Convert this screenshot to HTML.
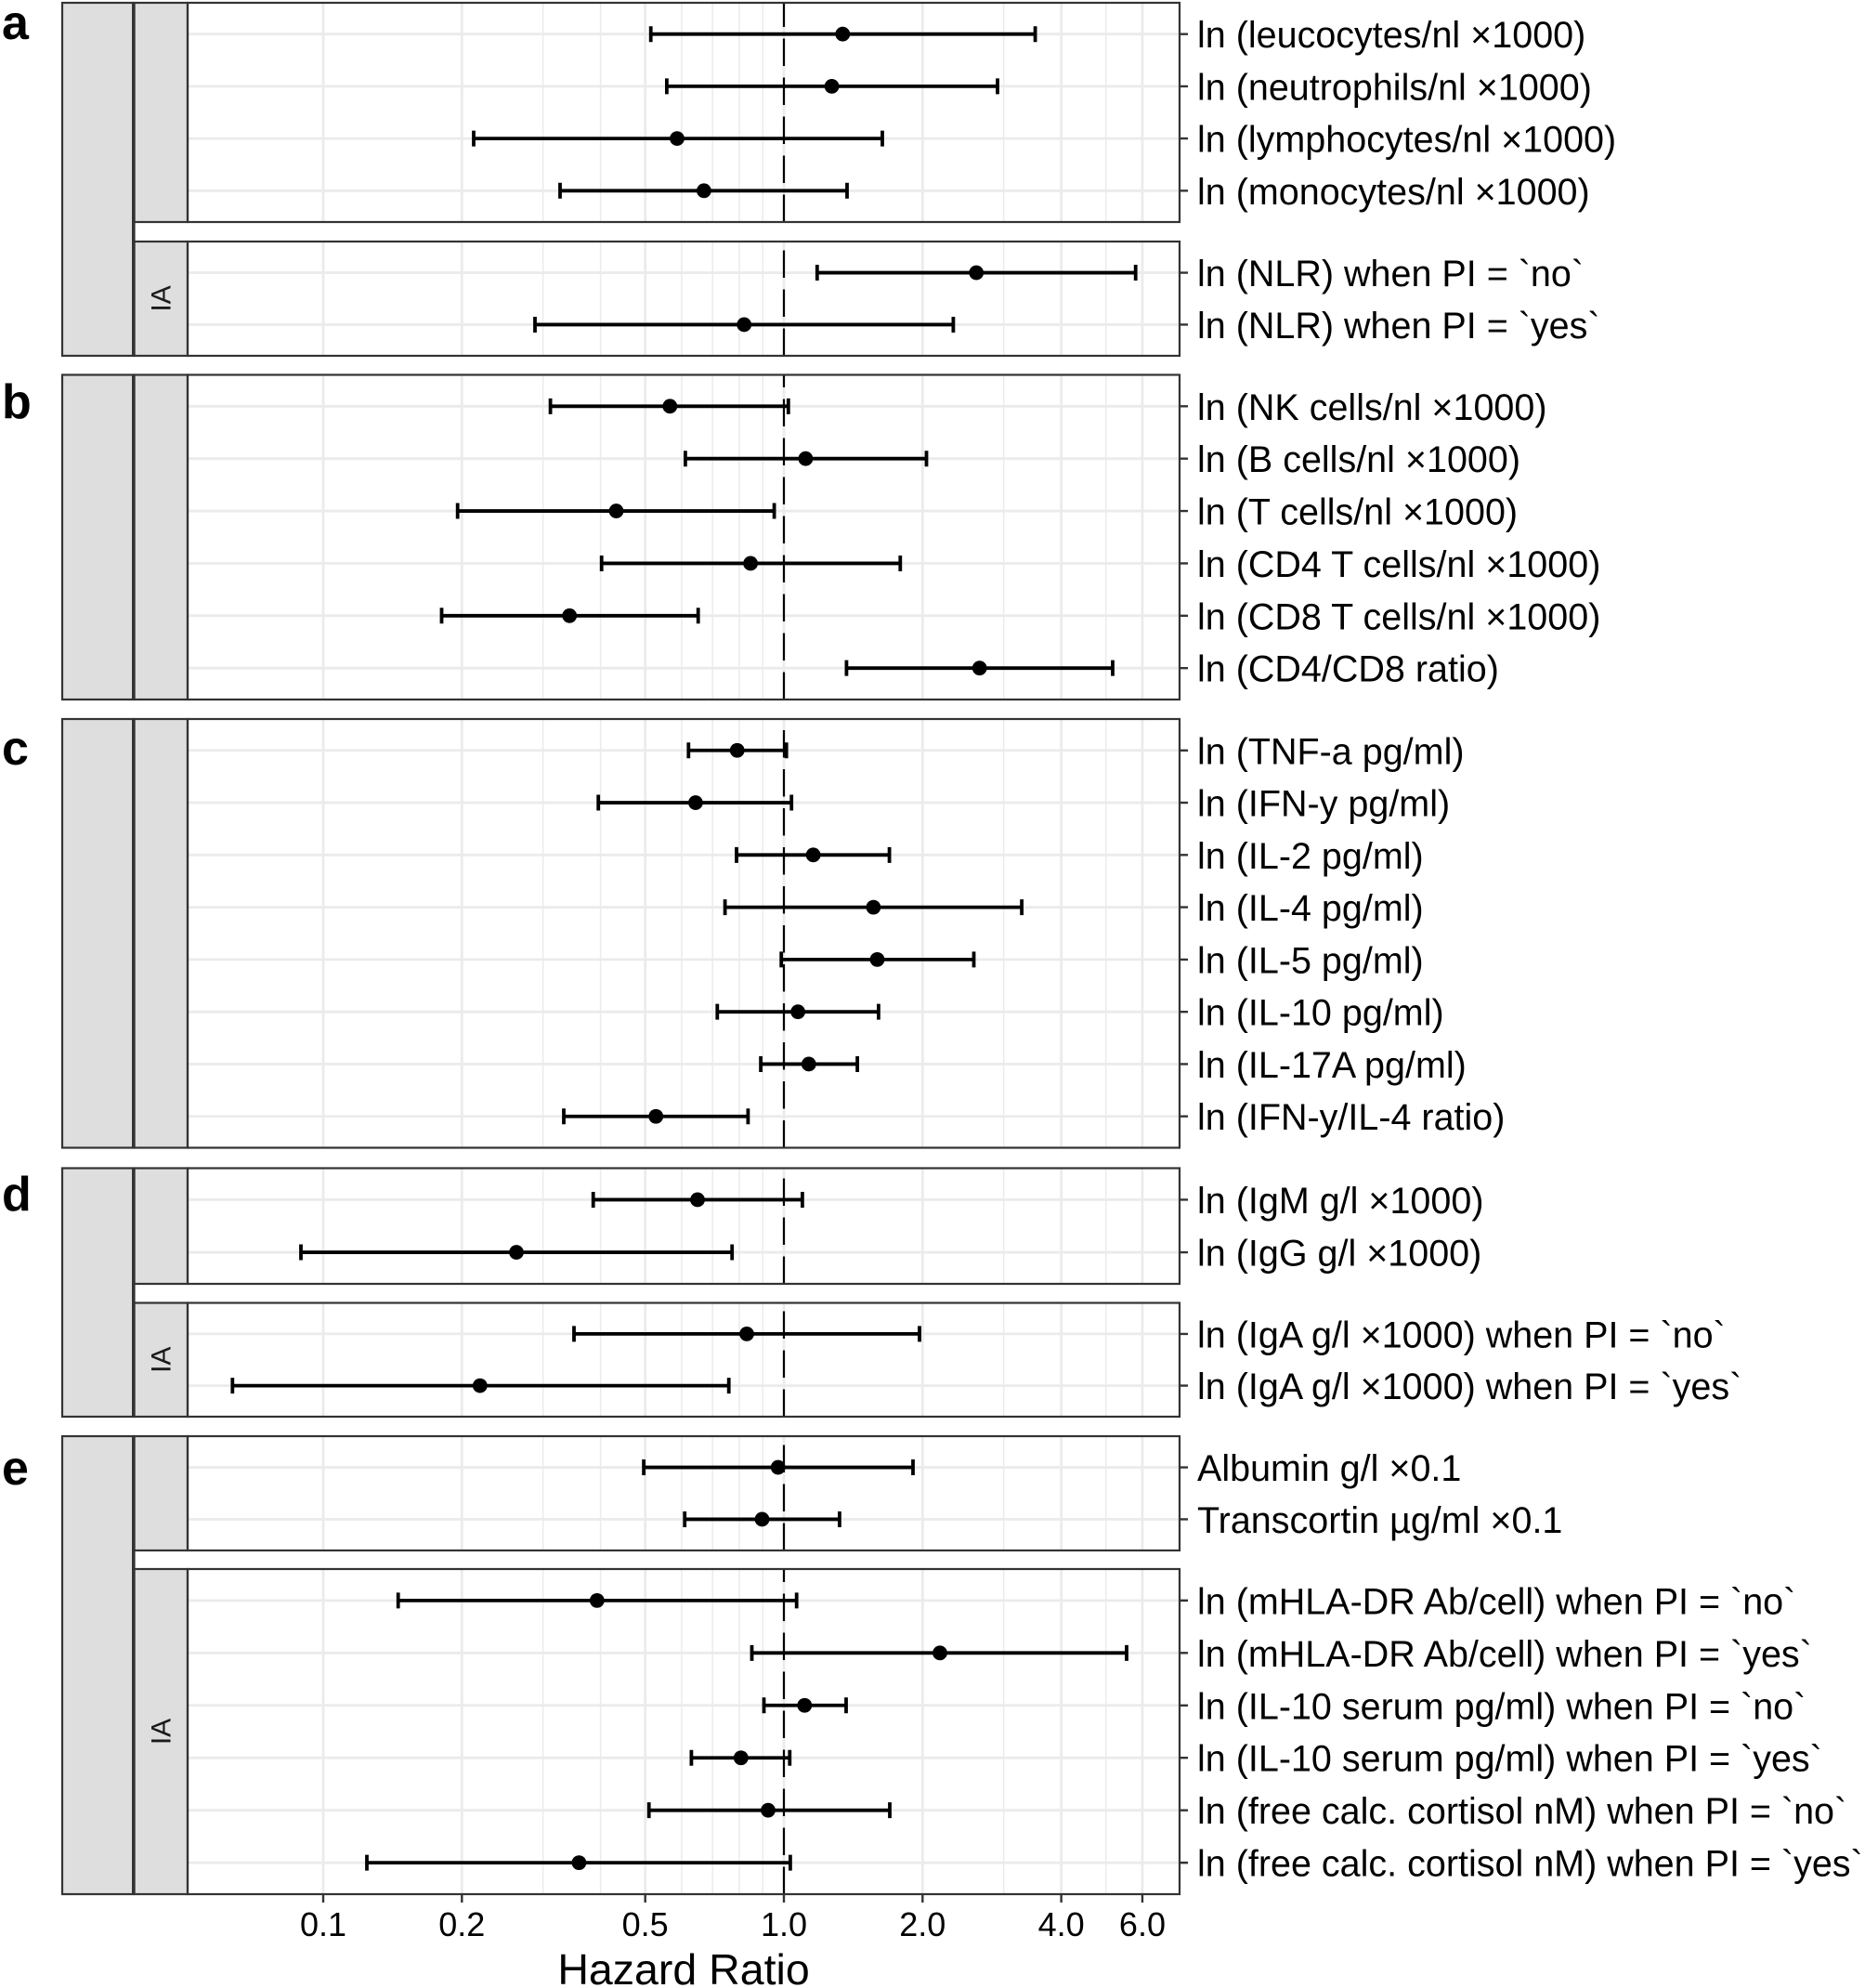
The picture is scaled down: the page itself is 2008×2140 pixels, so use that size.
<!DOCTYPE html>
<html>
<head>
<meta charset="utf-8">
<style>
html,body{margin:0;padding:0;background:#fff;}
svg{display:block;}
text{font-family:"Liberation Sans",Arial,sans-serif;}
</style>
</head>
<body>
<svg width="2008" height="2140" viewBox="0 0 2008 2140" xmlns="http://www.w3.org/2000/svg">
<rect x="0" y="0" width="2008" height="2140" fill="#fff"/>

<!-- panel letters -->
<g font-weight="bold" font-size="52" fill="#000">
<text x="2" y="42">a</text>
<text x="2" y="450">b</text>
<text x="2" y="823">c</text>
<text x="2" y="1303">d</text>
<text x="2" y="1598">e</text>
</g>

<!-- vertical grid lines (full height, gaps masked later) -->
<g stroke="#ebebeb" stroke-width="1.5">
<line x1="584.65" y1="3" x2="584.65" y2="2039"/>
<line x1="646.62" y1="3" x2="646.62" y2="2039"/>
<line x1="733.96" y1="3" x2="733.96" y2="2039"/>
<line x1="767.17" y1="3" x2="767.17" y2="2039"/>
<line x1="795.93" y1="3" x2="795.93" y2="2039"/>
<line x1="821.30" y1="3" x2="821.30" y2="2039"/>
<line x1="1080.65" y1="3" x2="1080.65" y2="2039"/>
<line x1="1190.69" y1="3" x2="1190.69" y2="2039"/>
</g>
<g stroke="#ebebeb" stroke-width="2.8">
<line x1="348" y1="3" x2="348" y2="2039"/>
<line x1="497.31" y1="3" x2="497.31" y2="2039"/>
<line x1="694.69" y1="3" x2="694.69" y2="2039"/>
<line x1="844" y1="3" x2="844" y2="2039"/>
<line x1="993.31" y1="3" x2="993.31" y2="2039"/>
<line x1="1142.62" y1="3" x2="1142.62" y2="2039"/>
<line x1="1229.96" y1="3" x2="1229.96" y2="2039"/>
</g>
<!-- gaps between panels -->
<g fill="#fff">
<rect x="200" y="239" width="1074" height="21"/>
<rect x="200" y="383" width="1074" height="20.5"/>
<rect x="200" y="753" width="1074" height="21"/>
<rect x="200" y="1235.5" width="1074" height="22"/>
<rect x="200" y="1382" width="1074" height="20.5"/>
<rect x="200" y="1525" width="1074" height="21"/>
<rect x="200" y="1669" width="1074" height="20"/>
</g>

<!-- horizontal grid lines -->
<g stroke="#ebebeb" stroke-width="2.8">
<line x1="202" x2="1270" y1="36.71" y2="36.71"/>
<line x1="202" x2="1270" y1="92.90" y2="92.90"/>
<line x1="202" x2="1270" y1="149.10" y2="149.10"/>
<line x1="202" x2="1270" y1="205.29" y2="205.29"/>
<line x1="202" x2="1270" y1="293.55" y2="293.55"/>
<line x1="202" x2="1270" y1="349.45" y2="349.45"/>
<line x1="202" x2="1270" y1="437.32" y2="437.32"/>
<line x1="202" x2="1270" y1="493.69" y2="493.69"/>
<line x1="202" x2="1270" y1="550.06" y2="550.06"/>
<line x1="202" x2="1270" y1="606.44" y2="606.44"/>
<line x1="202" x2="1270" y1="662.81" y2="662.81"/>
<line x1="202" x2="1270" y1="719.18" y2="719.18"/>
<line x1="202" x2="1270" y1="807.77" y2="807.77"/>
<line x1="202" x2="1270" y1="864.05" y2="864.05"/>
<line x1="202" x2="1270" y1="920.33" y2="920.33"/>
<line x1="202" x2="1270" y1="976.61" y2="976.61"/>
<line x1="202" x2="1270" y1="1032.89" y2="1032.89"/>
<line x1="202" x2="1270" y1="1089.17" y2="1089.17"/>
<line x1="202" x2="1270" y1="1145.45" y2="1145.45"/>
<line x1="202" x2="1270" y1="1201.73" y2="1201.73"/>
<line x1="202" x2="1270" y1="1291.45" y2="1291.45"/>
<line x1="202" x2="1270" y1="1348.05" y2="1348.05"/>
<line x1="202" x2="1270" y1="1435.91" y2="1435.91"/>
<line x1="202" x2="1270" y1="1491.59" y2="1491.59"/>
<line x1="202" x2="1270" y1="1579.55" y2="1579.55"/>
<line x1="202" x2="1270" y1="1635.45" y2="1635.45"/>
<line x1="202" x2="1270" y1="1722.87" y2="1722.87"/>
<line x1="202" x2="1270" y1="1779.32" y2="1779.32"/>
<line x1="202" x2="1270" y1="1835.77" y2="1835.77"/>
<line x1="202" x2="1270" y1="1892.23" y2="1892.23"/>
<line x1="202" x2="1270" y1="1948.68" y2="1948.68"/>
<line x1="202" x2="1270" y1="2005.13" y2="2005.13"/>
</g>

<!-- dashed reference line at HR = 1 (drawn bottom to top per panel) -->
<g stroke="#000" stroke-width="2.2" stroke-dasharray="29.5 12.5" fill="none">
<line x1="844" y1="239" x2="844" y2="3"/>
<line x1="844" y1="383" x2="844" y2="260"/>
<line x1="844" y1="753" x2="844" y2="403.5"/>
<line x1="844" y1="1235.5" x2="844" y2="774"/>
<line x1="844" y1="1382" x2="844" y2="1257.5"/>
<line x1="844" y1="1525" x2="844" y2="1402.5"/>
<line x1="844" y1="1669" x2="844" y2="1546"/>
<line x1="844" y1="2039" x2="844" y2="1689"/>
</g>

<!-- error bars -->
<g stroke="#000" stroke-width="3.8" fill="none">
<path d="M700.7 36.71H1114.6M700.7 28.2V45.2M1114.6 28.2V45.2"/>
<path d="M717.9 92.90H1074M717.9 84.4V101.4M1074 84.4V101.4"/>
<path d="M510 149.10H950M510 140.6V157.6M950 140.6V157.6"/>
<path d="M603 205.29H912M603 196.8V213.8M912 196.8V213.8"/>
<path d="M879.8 293.55H1222.7M879.8 285.05V302.05M1222.7 285.05V302.05"/>
<path d="M576 349.45H1026.4M576 340.95V357.95M1026.4 340.95V357.95"/>

<path d="M592.6 437.32H848.8M592.6 428.82V445.82M848.8 428.82V445.82"/>
<path d="M737.9 493.69H997.5M737.9 485.19V502.19M997.5 485.19V502.19"/>
<path d="M492.7 550.06H833.6M492.7 541.56V558.56M833.6 541.56V558.56"/>
<path d="M647.7 606.44H969.3M647.7 597.94V614.94M969.3 597.94V614.94"/>
<path d="M475.5 662.81H751.7M475.5 654.31V671.31M751.7 654.31V671.31"/>
<path d="M911.4 719.18H1198M911.4 710.68V727.68M1198 710.68V727.68"/>

<path d="M741.3 807.77H846.7M741.3 799.27V816.27M846.7 799.27V816.27"/>
<path d="M644.2 864.05H852.2M644.2 855.55V872.55M852.2 855.55V872.55"/>
<path d="M793 920.33H957.6M793 911.83V928.83M957.6 911.83V928.83"/>
<path d="M780.6 976.61H1100.1M780.6 968.11V985.11M1100.1 968.11V985.11"/>
<path d="M841.2 1032.89H1048.5M841.2 1024.39V1041.39M1048.5 1024.39V1041.39"/>
<path d="M772.3 1089.17H945.9M772.3 1080.67V1097.67M945.9 1080.67V1097.67"/>
<path d="M819.1 1145.45H923.1M819.1 1136.95V1153.95M923.1 1136.95V1153.95"/>
<path d="M607 1201.73H805.4M607 1193.23V1210.23M805.4 1193.23V1210.23"/>

<path d="M638.7 1291.45H863.9M638.7 1282.95V1299.95M863.9 1282.95V1299.95"/>
<path d="M324 1348.05H788.2M324 1339.55V1356.55M788.2 1339.55V1356.55"/>
<path d="M618 1435.91H990M618 1427.41V1444.41M990 1427.41V1444.41"/>
<path d="M250.3 1491.59H784.7M250.3 1483.09V1500.09M784.7 1483.09V1500.09"/>

<path d="M693.1 1579.55H983M693.1 1571.05V1588.05M983 1571.05V1588.05"/>
<path d="M737.2 1635.45H903.9M737.2 1626.95V1643.95M903.9 1626.95V1643.95"/>
<path d="M428.7 1722.87H857.7M428.7 1714.37V1731.37M857.7 1714.37V1731.37"/>
<path d="M809.5 1779.32H1213M809.5 1770.82V1787.82M1213 1770.82V1787.82"/>
<path d="M822.5 1835.77H911M822.5 1827.27V1844.27M911 1827.27V1844.27"/>
<path d="M744.4 1892.23H850.3M744.4 1883.73V1900.73M850.3 1883.73V1900.73"/>
<path d="M698.7 1948.68H958M698.7 1940.18V1957.18M958 1940.18V1957.18"/>
<path d="M395 2005.13H850.9M395 1996.63V2013.63M850.9 1996.63V2013.63"/>
</g>

<!-- points -->
<g fill="#000">
<circle cx="907.3" cy="36.71" r="7.9"/>
<circle cx="895.6" cy="92.90" r="7.9"/>
<circle cx="729" cy="149.10" r="7.9"/>
<circle cx="757.9" cy="205.29" r="7.9"/>
<circle cx="1051.2" cy="293.55" r="7.9"/>
<circle cx="801.2" cy="349.45" r="7.9"/>
<circle cx="721.3" cy="437.32" r="7.9"/>
<circle cx="867.4" cy="493.69" r="7.9"/>
<circle cx="663.5" cy="550.06" r="7.9"/>
<circle cx="808.1" cy="606.44" r="7.9"/>
<circle cx="613.2" cy="662.81" r="7.9"/>
<circle cx="1054.7" cy="719.18" r="7.9"/>
<circle cx="793.7" cy="807.77" r="7.9"/>
<circle cx="748.9" cy="864.05" r="7.9"/>
<circle cx="875.6" cy="920.33" r="7.9"/>
<circle cx="940.4" cy="976.61" r="7.9"/>
<circle cx="944.5" cy="1032.89" r="7.9"/>
<circle cx="859.1" cy="1089.17" r="7.9"/>
<circle cx="870.8" cy="1145.45" r="7.9"/>
<circle cx="706.2" cy="1201.73" r="7.9"/>
<circle cx="751" cy="1291.45" r="7.9"/>
<circle cx="556" cy="1348.05" r="7.9"/>
<circle cx="804" cy="1435.91" r="7.9"/>
<circle cx="516.8" cy="1491.59" r="7.9"/>
<circle cx="837.7" cy="1579.55" r="7.9"/>
<circle cx="820.5" cy="1635.45" r="7.9"/>
<circle cx="642.8" cy="1722.87" r="7.9"/>
<circle cx="1012" cy="1779.32" r="7.9"/>
<circle cx="866.3" cy="1835.77" r="7.9"/>
<circle cx="797.8" cy="1892.23" r="7.9"/>
<circle cx="827" cy="1948.68" r="7.9"/>
<circle cx="623.4" cy="2005.13" r="7.9"/>
</g>

<!-- strips -->
<g fill="#dedede" stroke="#333" stroke-width="2.2">
<rect x="67" y="3" width="77" height="380"/>
<rect x="67" y="403.5" width="77" height="349.5"/>
<rect x="67" y="774" width="77" height="461.5"/>
<rect x="67" y="1257.5" width="77" height="267.5"/>
<rect x="67" y="1546" width="77" height="493"/>

<rect x="144.5" y="3" width="57.5" height="236"/>
<rect x="144.5" y="260" width="57.5" height="123"/>
<rect x="144.5" y="403.5" width="57.5" height="349.5"/>
<rect x="144.5" y="774" width="57.5" height="461.5"/>
<rect x="144.5" y="1257.5" width="57.5" height="124.5"/>
<rect x="144.5" y="1402.5" width="57.5" height="122.5"/>
<rect x="144.5" y="1546" width="57.5" height="123"/>
<rect x="144.5" y="1689" width="57.5" height="350"/>
</g>
<!-- thicker divider between outer and inner strips -->
<g stroke="#333" stroke-width="3.6">
<line x1="143.8" y1="3" x2="143.8" y2="383"/>
<line x1="143.8" y1="403.5" x2="143.8" y2="753"/>
<line x1="143.8" y1="774" x2="143.8" y2="1235.5"/>
<line x1="143.8" y1="1257.5" x2="143.8" y2="1525"/>
<line x1="143.8" y1="1546" x2="143.8" y2="2039"/>
</g>

<!-- IA strip labels -->
<g font-size="30" fill="#1a1a1a" text-anchor="middle">
<text transform="translate(173,321.5) rotate(-90)" y="10.5">IA</text>
<text transform="translate(173,1463.75) rotate(-90)" y="10.5">IA</text>
<text transform="translate(173,1864) rotate(-90)" y="10.5">IA</text>
</g>

<!-- panel borders -->
<g fill="none" stroke="#333" stroke-width="2.2">
<rect x="202" y="3" width="1068" height="236"/>
<rect x="202" y="260" width="1068" height="123"/>
<rect x="202" y="403.5" width="1068" height="349.5"/>
<rect x="202" y="774" width="1068" height="461.5"/>
<rect x="202" y="1257.5" width="1068" height="124.5"/>
<rect x="202" y="1402.5" width="1068" height="122.5"/>
<rect x="202" y="1546" width="1068" height="123"/>
<rect x="202" y="1689" width="1068" height="350"/>
</g>

<!-- right axis ticks -->
<g stroke="#333" stroke-width="2.4">
<path d="M1270 36.71h9M1270 92.90h9M1270 149.10h9M1270 205.29h9M1270 293.55h9M1270 349.45h9
M1270 437.32h9M1270 493.69h9M1270 550.06h9M1270 606.44h9M1270 662.81h9M1270 719.18h9
M1270 807.77h9M1270 864.05h9M1270 920.33h9M1270 976.61h9M1270 1032.89h9M1270 1089.17h9M1270 1145.45h9M1270 1201.73h9
M1270 1291.45h9M1270 1348.05h9M1270 1435.91h9M1270 1491.59h9
M1270 1579.55h9M1270 1635.45h9M1270 1722.87h9M1270 1779.32h9M1270 1835.77h9M1270 1892.23h9M1270 1948.68h9M1270 2005.13h9"/>
</g>

<!-- right labels -->
<g font-size="39.5" fill="#000">
<text x="1289" y="51.21">ln (leucocytes/nl ×1000)</text>
<text x="1289" y="107.40">ln (neutrophils/nl ×1000)</text>
<text x="1289" y="163.60">ln (lymphocytes/nl ×1000)</text>
<text x="1289" y="219.79">ln (monocytes/nl ×1000)</text>
<text x="1289" y="308.05">ln (NLR) when PI = `no`</text>
<text x="1289" y="363.95">ln (NLR) when PI = `yes`</text>

<text x="1289" y="451.82">ln (NK cells/nl ×1000)</text>
<text x="1289" y="508.19">ln (B cells/nl ×1000)</text>
<text x="1289" y="564.56">ln (T cells/nl ×1000)</text>
<text x="1289" y="620.94">ln (CD4 T cells/nl ×1000)</text>
<text x="1289" y="677.31">ln (CD8 T cells/nl ×1000)</text>
<text x="1289" y="733.68">ln (CD4/CD8 ratio)</text>

<text x="1289" y="822.27">ln (TNF-a pg/ml)</text>
<text x="1289" y="878.55">ln (IFN-y pg/ml)</text>
<text x="1289" y="934.83">ln (IL-2 pg/ml)</text>
<text x="1289" y="991.11">ln (IL-4 pg/ml)</text>
<text x="1289" y="1047.39">ln (IL-5 pg/ml)</text>
<text x="1289" y="1103.67">ln (IL-10 pg/ml)</text>
<text x="1289" y="1159.95">ln (IL-17A pg/ml)</text>
<text x="1289" y="1216.23">ln (IFN-y/IL-4 ratio)</text>

<text x="1289" y="1305.95">ln (IgM g/l ×1000)</text>
<text x="1289" y="1362.55">ln (IgG g/l ×1000)</text>
<text x="1289" y="1450.41">ln (IgA g/l ×1000) when PI = `no`</text>
<text x="1289" y="1506.09">ln (IgA g/l ×1000) when PI = `yes`</text>

<text x="1289" y="1594.05">Albumin g/l ×0.1</text>
<text x="1289" y="1649.95">Transcortin µg/ml ×0.1</text>
<text x="1289" y="1737.37">ln (mHLA-DR Ab/cell) when PI = `no`</text>
<text x="1289" y="1793.82">ln (mHLA-DR Ab/cell) when PI = `yes`</text>
<text x="1289" y="1850.27">ln (IL-10 serum pg/ml) when PI = `no`</text>
<text x="1289" y="1906.73">ln (IL-10 serum pg/ml) when PI = `yes`</text>
<text x="1289" y="1963.18">ln (free calc. cortisol nM) when PI = `no`</text>
<text x="1289" y="2019.63">ln (free calc. cortisol nM) when PI = `yes`</text>
</g>

<!-- x axis ticks -->
<g stroke="#333" stroke-width="2.4">
<path d="M348 2039v9M497.31 2039v9M694.69 2039v9M844 2039v9M993.31 2039v9M1142.62 2039v9M1229.96 2039v9"/>
</g>
<g font-size="36" fill="#000" text-anchor="middle">
<text x="348" y="2084">0.1</text>
<text x="497.31" y="2084">0.2</text>
<text x="694.69" y="2084">0.5</text>
<text x="844" y="2084">1.0</text>
<text x="993.31" y="2084">2.0</text>
<text x="1142.62" y="2084">4.0</text>
<text x="1229.96" y="2084">6.0</text>
</g>
<text x="736" y="2136" font-size="46.5" fill="#000" text-anchor="middle">Hazard Ratio</text>
</svg>
</body>
</html>
